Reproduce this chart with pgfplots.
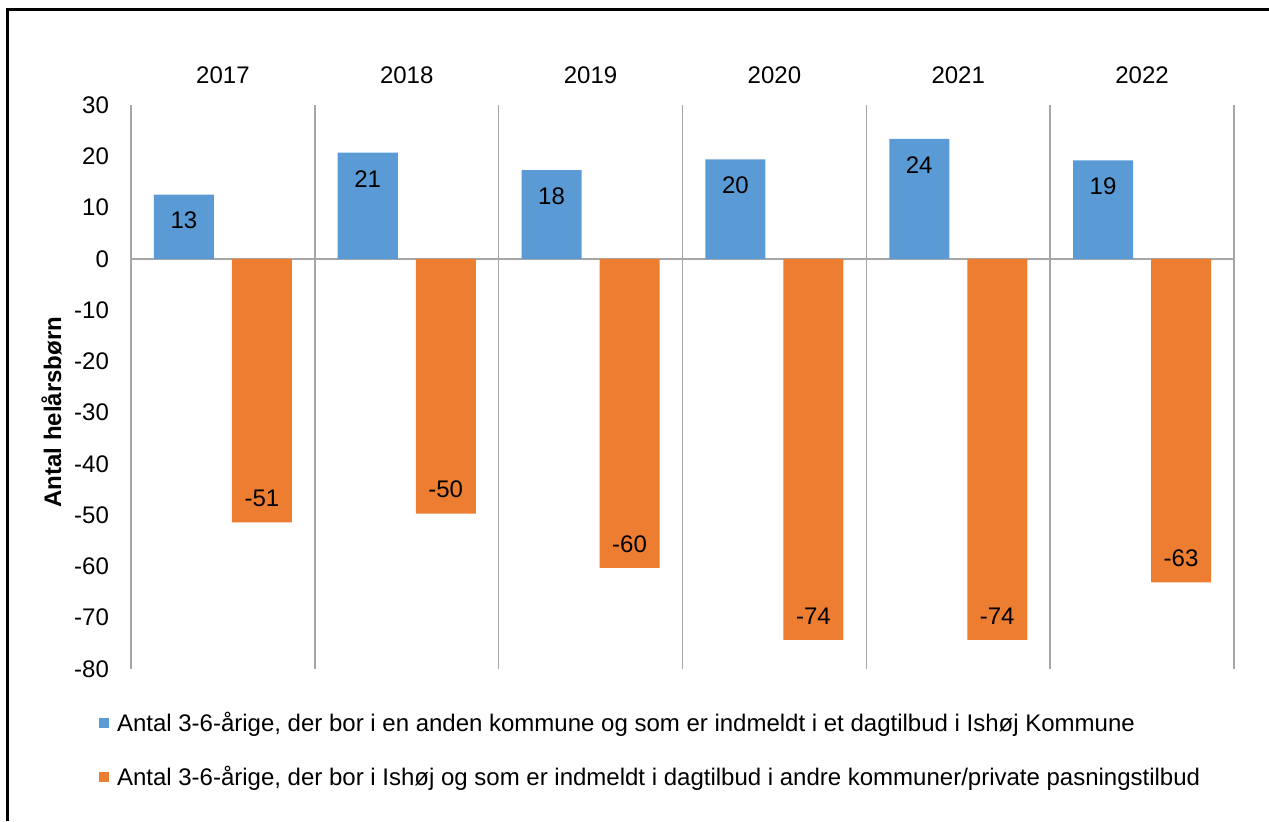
\documentclass[border=0pt]{standalone}
\usepackage{fontspec}
\setmainfont{Liberation Sans}
\usepackage{pgfplots}
\usepackage{pgfplotstable}
\pgfplotsset{compat=1.18}
\definecolor{cblue}{HTML}{5B9BD5}
\definecolor{corange}{HTML}{ED7D31}
\definecolor{cgrid}{HTML}{A6A6A6}
\newcommand{\cf}{\fontsize{12}{14.4}\selectfont}
\pgfplotstableread{
x y lab
0 12.5 13
1 20.7 21
2 17.3 18
3 19.4 20
4 23.4 24
5 19.2 19
}\tblblue
\pgfplotstableread{
x y lab
0 -51.4 -51
1 -49.7 -50
2 -60.3 -60
3 -74.3 -74
4 -74.3 -74
5 -63.1 -63
}\tblorange
\begin{document}
\begin{tikzpicture}
\useasboundingbox (0,0) rectangle (634.5pt,410.5pt);
\draw[line width=1.5pt] (3.5pt,0) -- (3.5pt,405.5pt) -- (634.5pt,405.5pt);
\begin{axis}[
  at={(65.5pt,76pt)}, anchor=south west,
  scale only axis, width=551.5pt, height=282pt,
  xmin=-0.5, xmax=5.5, ymin=-80, ymax=30,
  ybar=9pt, bar width=30pt,
  axis line style={draw=none},
  xtick={0,...,5},
  xticklabels={2017,2018,2019,2020,2021,2022},
  xticklabel pos=upper,
  xticklabel style={yshift=7pt},
  minor xtick={-0.5,0.5,...,5.5},
  xminorgrids,
  minor grid style={cgrid, line width=0.75pt},
  major tick length=0pt, minor tick length=0pt,
  ytick={-80,-70,...,30},
  yticklabel style={xshift=-7.5pt},
  /pgf/number format/assume math mode=true,
  tick label style={font=\cf},
  point meta=explicit symbolic,
  nodes near coords,
  nodes near coords align=center,
  legend cell align=left,
  legend style={draw=none, fill=none, at={(axis description cs:-0.029,-0.068)}, anchor=north west,
    font=\cf, row sep=12pt, inner sep=0pt,
    nodes={inner xsep=3.8pt}},
  clip=false,
]
\draw[cgrid, line width=0.75pt] (axis cs:-0.5,0) -- (axis cs:5.5,0);
\addplot[fill=cblue, draw=none,
  every node near coord/.append style={font=\cf, yshift=-13pt},
  legend image code/.code={\fill[cblue] (0pt,-2.5pt) rectangle (5pt,2.5pt);}]
  table[x=x, y=y, meta=lab] {\tblblue};
\addplot[fill=corange, draw=none,
  every node near coord/.append style={font=\cf, yshift=12pt},
  legend image code/.code={\fill[corange] (0pt,-2.5pt) rectangle (5pt,2.5pt);}]
  table[x=x, y=y, meta=lab] {\tblorange};
\legend{{Antal 3-6-årige, der bor i en anden kommune og som er indmeldt i et dagtilbud i Ishøj Kommune},
{Antal 3-6-årige, der bor i Ishøj og som er indmeldt i dagtilbud i andre kommuner/private pasningstilbud}}
\end{axis}
\node[rotate=90, font=\bfseries\cf] at (25.8pt,204.5pt) {Antal helårsbørn};
\end{tikzpicture}
\end{document}
